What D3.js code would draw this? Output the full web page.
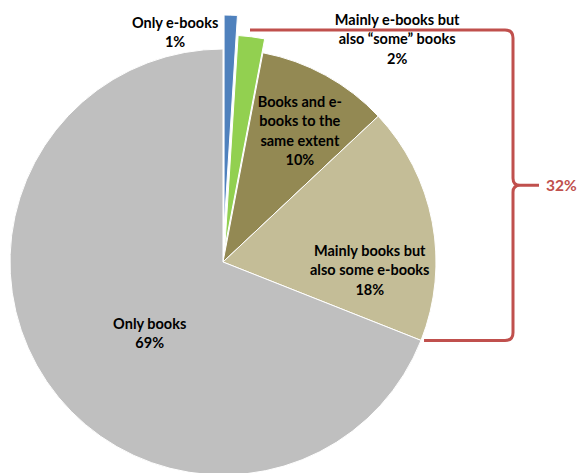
<!DOCTYPE html>
<html>
<head>
<meta charset="utf-8">
<script src="https://cdn.jsdelivr.net/npm/d3@7"></script>
<style>
  html, body { margin: 0; padding: 0; background: #fff; }
  svg text { font-family: Lato, "Open Sans", sans-serif; font-weight: bold; }
</style>
</head>
<body>
<svg id="chart" width="579" height="473"></svg>
<script>
// Reading habits: share of respondents by books / e-books mix
const categories = [
    'Only e-books',
    'Mainly e-books but also “some” books',
    'Books and e-books to the same extent',
    'Mainly books but also some e-books',
    'Only books',
];
const labelLines = [
    ['Only e-books'],
    ['Mainly e-books but', 'also “some” books'],
    ['Books and e-', 'books to the', 'same extent'],
    ['Mainly books but', 'also some e-books'],
    ['Only books'],
];
const values = [1, 2, 10, 18, 69];
// slices spanned by the bracket, and the share printed beside it
const bracketGroup = [1, 2, 3];
const bracketTotal = 32;

const COLORS = ['#4F81BD', '#92D050', '#938953', '#C4BD97', '#BFBFBF'];
const EXPLODE = [34, 14, 0, 0, 0];
// label placement: radius as fraction of R, angle shift from slice middle (deg)
const LABEL_POS = [
    { r: 1.10, da: -13.6 },
    { r: 1.328, da: 30.8 },
    { r: 0.713, da: 1.6 },
    { r: 0.69, da: 13.9 },
    { r: 0.48, da: -10.0 },
];

const svg = d3.select('#chart');
const cx = 223, cy = 262, R = 213;
const LINE_H = 19.5;
const BRACKET_RED = '#C0504D';

const g = svg.append('g').attr('transform', `translate(${cx},${cy})`);

const pie = d3.pie().sort(null).value(d => d)(values);
const arc = d3.arc().innerRadius(0).outerRadius(R);

const polar = (r, a) => [r * Math.sin(a), -r * Math.cos(a)];

g.selectAll('path.slice')
    .data(pie)
    .join('path')
    .attr('class', 'slice')
    .attr('d', arc)
    .attr('fill', (d, i) => COLORS[i])
    .attr('stroke', '#fff')
    .attr('stroke-width', 1)
    .attr('transform', (d, i) => {
        const mid = (d.startAngle + d.endAngle) / 2;
        const [dx, dy] = polar(EXPLODE[i], mid);
        return `translate(${dx},${dy})`;
    });

// Labels
pie.forEach((d, i) => {
    const mid = (d.startAngle + d.endAngle) / 2 + LABEL_POS[i].da * Math.PI / 180;
    const [lx, ly] = polar(LABEL_POS[i].r * R, mid);
    const lines = labelLines[i].concat([`${values[i]}%`]);
    const t = g.append('text')
        .attr('text-anchor', 'middle')
        .attr('font-size', '14.5px')
        .attr('fill', '#000');
    lines.forEach((s, k) => {
        t.append('tspan')
            .attr('x', lx)
            .attr('y', ly + (k - (lines.length - 1) / 2) * LINE_H)
            .attr('dy', '0.35em')
            .text(s);
    });
});

// Bracket round the e-book readers
const lastSlice = pie[bracketGroup[bracketGroup.length - 1]];
const [bottomX, botY] = polar(R, lastSlice.endAngle);
const topY = 30 - cy;
const bx = 513 - cx;
const midY = (topY + botY) / 2;
const rr = 8;

const path = d3.path();
path.moveTo(250 - cx, topY);
path.lineTo(bx - rr, topY);
path.quadraticCurveTo(bx, topY, bx, topY + rr);
path.lineTo(bx, midY - 7);
path.quadraticCurveTo(bx, midY, bx + 7, midY);
path.lineTo(539 - cx, midY);
path.moveTo(bx + 7, midY);
path.quadraticCurveTo(bx, midY, bx, midY + 7);
path.lineTo(bx, botY - rr);
path.quadraticCurveTo(bx, botY, bx - rr, botY);
path.lineTo(bottomX + 3, botY);

g.append('path')
    .attr('d', path.toString())
    .attr('fill', 'none')
    .attr('stroke', BRACKET_RED)
    .attr('stroke-width', 3);

g.append('text')
    .attr('x', 546 - cx)
    .attr('y', midY)
    .attr('dy', '0.35em')
    .attr('font-size', '15.5px')
    .attr('fill', BRACKET_RED)
    .text(`${bracketTotal}%`);
</script>
</body>
</html>
